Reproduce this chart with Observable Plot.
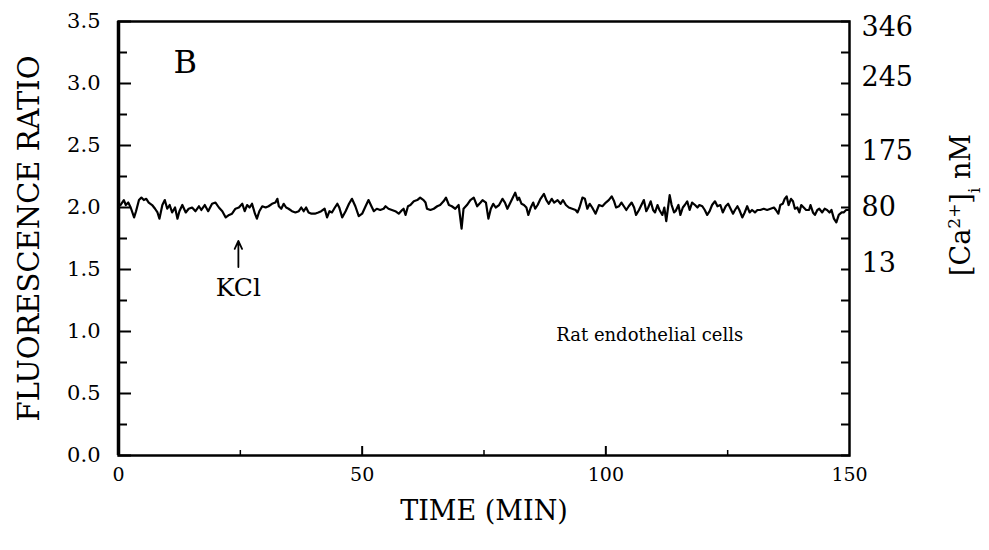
<!DOCTYPE html>
<html><head><meta charset="utf-8">
<script src="https://cdn.jsdelivr.net/npm/d3@7"></script>
<script src="https://cdn.jsdelivr.net/npm/@observablehq/plot@0.6"></script>
<style>
body{margin:0;background:#fff;}
</style></head><body><div id="chart"></div>
<script>
// Time (min)
const time = [0.4,1.1,1.5,2.0,2.5,3.2,3.6,4.2,4.7,5.2,5.7,6.2,6.9,7.5,8.0,8.4,9.0,9.5,10.0,10.5,11.0,11.6,12.1,12.5,13.1,13.8,14.4,15.1,15.8,16.5,17.0,17.7,18.4,19.2,19.9,20.6,21.3,22.0,22.7,23.3,24.0,24.7,
25.4,25.9,26.4,26.9,27.4,28.0,28.4,28.9,29.5,30.2,30.8,31.5,32.2,32.6,32.9,33.4,33.9,34.4,34.9,35.6,36.3,37.0,37.5,38.0,38.5,39.0,39.6,40.3,41.0,41.6,42.3,42.8,43.3,43.8,44.4,44.9,45.3,45.9,46.6,47.3,47.9,48.6,49.3,
50.0,50.7,51.3,51.9,52.4,53.0,53.7,54.4,54.8,55.4,56.1,56.8,57.5,58.2,58.5,58.9,59.4,59.9,60.6,61.3,61.9,62.6,63.0,63.3,64.0,64.7,65.4,66.0,66.7,67.2,67.8,68.4,69.1,69.8,70.4,70.8,71.5,72.2,72.9,73.6,74.3,
74.7,75.4,75.9,76.4,76.9,77.4,78.1,78.8,79.3,79.8,80.3,80.8,81.4,81.9,82.2,82.7,83.2,83.7,84.1,84.6,85.1,85.5,86.0,86.6,87.3,87.8,88.3,88.9,89.4,90.1,90.7,91.2,91.8,92.4,93.1,93.8,94.2,94.6,95.2,95.7,96.2,96.7,97.2,97.9,98.6,
99.3,100.0,100.6,101.2,101.7,102.1,102.7,103.2,103.7,104.2,104.7,105.3,105.8,106.2,106.8,107.3,107.8,108.3,108.7,109.2,109.7,110.1,110.6,111.0,111.6,112.0,112.4,112.8,113.1,113.5,114.0,114.3,114.9,115.3,115.8,116.2,116.7,117.2,117.7,118.3,118.8,119.2,119.8,120.3,120.8,121.3,121.8,122.4,122.9,123.5,
124.0,124.6,125.1,125.6,126.1,126.5,127.0,127.4,128.0,128.5,129.0,129.5,130.0,130.6,131.1,131.7,132.4,133.1,133.8,134.5,134.9,135.4,135.8,136.3,136.7,137.1,137.5,138.0,138.4,138.8,139.3,139.7,140.1,140.6,141.1,141.7,142.0,142.5,142.9,143.4,143.8,144.4,144.9,145.4,145.9,146.3,146.8,147.3,147.8,148.4,148.8,149.3,149.9];
// Fluorescence ratio
const ratio = [2.02,2.06,2.02,2.04,2.00,1.92,1.97,2.06,2.08,2.06,2.07,2.04,2.02,1.99,1.96,1.91,2.02,2.06,1.99,2.02,1.96,2.00,1.91,1.97,2.02,1.96,1.99,2.00,1.97,2.01,1.98,2.02,1.97,2.03,2.04,2.00,1.97,1.92,1.94,1.95,1.99,2.00,
2.03,1.97,2.02,2.00,2.03,1.95,1.91,1.97,2.01,2.00,2.01,2.03,2.04,2.07,2.01,1.99,2.03,2.00,1.99,1.97,1.96,1.97,2.00,1.97,2.00,1.96,1.95,1.95,1.96,1.97,1.99,1.92,1.97,1.96,2.00,2.03,2.00,1.92,1.97,2.03,2.07,2.01,1.93,
1.95,2.01,2.06,2.01,1.97,1.99,1.98,1.99,2.01,1.99,1.98,1.97,1.95,1.98,1.99,1.94,2.01,2.02,2.05,2.06,2.08,2.06,2.04,1.99,1.98,1.99,2.01,2.02,2.05,2.08,2.02,2.01,1.99,2.02,1.83,1.99,2.02,2.06,2.08,2.01,2.04,
2.06,2.04,1.91,1.99,2.03,2.00,2.02,2.07,2.04,1.99,2.03,2.07,2.12,2.06,2.08,2.03,2.02,2.00,1.94,2.00,2.04,1.99,2.02,2.07,2.11,2.06,2.03,2.07,2.04,2.06,2.03,2.06,2.02,2.00,1.99,1.98,1.96,2.00,2.08,2.07,1.99,2.03,2.00,1.95,2.02,
2.01,2.04,2.06,2.09,2.05,2.00,2.01,2.04,2.01,1.98,2.01,2.04,2.00,1.94,1.98,2.02,2.06,1.97,2.00,2.05,1.98,1.96,2.02,1.98,1.94,2.00,1.89,2.01,2.10,2.02,1.96,1.97,2.02,1.94,2.00,2.02,2.05,1.98,2.04,2.02,2.00,2.02,2.01,1.98,1.94,1.97,2.02,2.05,2.01,2.02,
1.96,2.01,2.03,1.99,1.95,1.98,2.01,1.98,1.92,1.96,2.01,1.96,1.98,1.96,1.98,1.98,1.99,1.98,1.99,2.00,1.98,1.95,2.02,2.03,2.07,2.09,2.02,2.07,2.05,1.99,2.00,1.96,2.02,2.00,1.98,1.98,2.02,1.96,1.94,1.98,1.99,1.96,1.99,1.98,1.96,1.98,1.91,1.88,1.94,1.96,1.96,1.98,1.98];

// Axis ticks
const leftTicks = [0, 0.5, 1.0, 1.5, 2.0, 2.5, 3.0, 3.5];
const leftMinorTicks = [0.25, 0.75, 1.25, 1.75, 2.25, 2.75, 3.25];
const rightTickPositions = [3.45, 3.05, 2.45, 2.0, 1.55];
const rightTickLabels = ["346", "245", "175", "80", "13"];
const xLabelTicks = [0, 50, 100, 150];
const xMajorTicks = [50, 100];
const xMinorTicks = [25, 75, 125];

// Annotations
const noteText = ["B", "KCl", "Rat endothelial cells"];
const noteTime = [13.7, 24.6, 109];
const noteRatio = [3.17, 1.35, 0.97];
const arrowTime = [24.6];
const arrowFrom = [1.52];
const arrowTo = [1.73];

const data = time.map((t, i) => ({t, r: ratio[i]}));
const notes = noteText.map((s, i) => ({s, t: noteTime[i], r: noteRatio[i]}));
const arrows = arrowTime.map((t, i) => ({t, r1: arrowFrom[i], r2: arrowTo[i]}));
const rightMap = new Map(rightTickPositions.map((p, i) => [p, rightTickLabels[i]]));
const noteSize = [32, 25, 18];

const plot = Plot.plot({
  width: 989, height: 550,
  marginLeft: 118, marginRight: 140, marginTop: 21, marginBottom: 95,
  style: {fontFamily: "'DejaVu Serif', 'Liberation Serif', serif", fontSize: "21px", color: "black", background: "white", overflow: "visible"},
  x: {domain: [0, 150]},
  y: {domain: [0, 3.5]},
  marks: [
    Plot.axisY({ticks: leftTicks, tickSize: -13, fill: "none", label: null, strokeWidth: 2}),
    Plot.axisY({ticks: leftMinorTicks, tickSize: -9, fill: "none", label: null, strokeWidth: 2}),
    Plot.axisY({ticks: leftTicks, tickSize: 0, tickPadding: 18, tickFormat: d3.format(".1f"), label: null, fontSize: 21}),
    Plot.axisY({ticks: [], label: "FLUORESCENCE RATIO", labelAnchor: "center", labelOffset: 100, labelArrow: "none", fontSize: 29}),
    Plot.axisY({anchor: "right", ticks: leftTicks.concat(leftMinorTicks), tickSize: -9, fill: "none", label: null, strokeWidth: 2}),
    Plot.axisY({anchor: "right", ticks: rightTickPositions, tickSize: 0, tickPadding: 12, tickFormat: d => rightMap.get(d), label: null, fontSize: 27}),
    Plot.axisX({ticks: xMajorTicks, tickSize: -9, fill: "none", label: null, strokeWidth: 2}),
    Plot.axisX({ticks: xMinorTicks, tickSize: -5, fill: "none", label: null, strokeWidth: 1.5}),
    Plot.axisX({ticks: xLabelTicks, tickSize: 0, tickPadding: 12, label: null, fontSize: 19}),
    Plot.axisX({ticks: [], label: "TIME (MIN)", labelAnchor: "center", labelOffset: 64, labelArrow: "none", fontSize: 27}),
    Plot.frame({stroke: "black", strokeWidth: 2.5}),
    Plot.ruleX([0], {stroke: "black", strokeWidth: 3.5}),
    Plot.line(data, {x: "t", y: "r", stroke: "black", strokeWidth: 2.2, strokeLinejoin: "round"}),
    Plot.text(notes, {x: "t", y: "r", text: "s", fontSize: (d, i) => noteSize[i], fill: "black"}),
    Plot.arrow(arrows, {x: "t", y1: "r1", y2: "r2", stroke: "black", strokeWidth: 1.8, headLength: 10, headAngle: 50})
  ]
});

// Right-hand axis title with super/subscripts
const svg = d3.select(plot);
const title = svg.append("text")
  .attr("transform", "translate(970,205) rotate(-90)")
  .attr("text-anchor", "middle")
  .attr("font-size", 27)
  .attr("fill", "black");
title.append("tspan").text("[Ca");
title.append("tspan").attr("baseline-shift", "super").attr("font-size", 17).text("2+");
title.append("tspan").text("]");
title.append("tspan").attr("baseline-shift", "sub").attr("font-size", 17).text("i");
title.append("tspan").text(" nM");

document.getElementById("chart").appendChild(plot);
</script>
</body></html>
